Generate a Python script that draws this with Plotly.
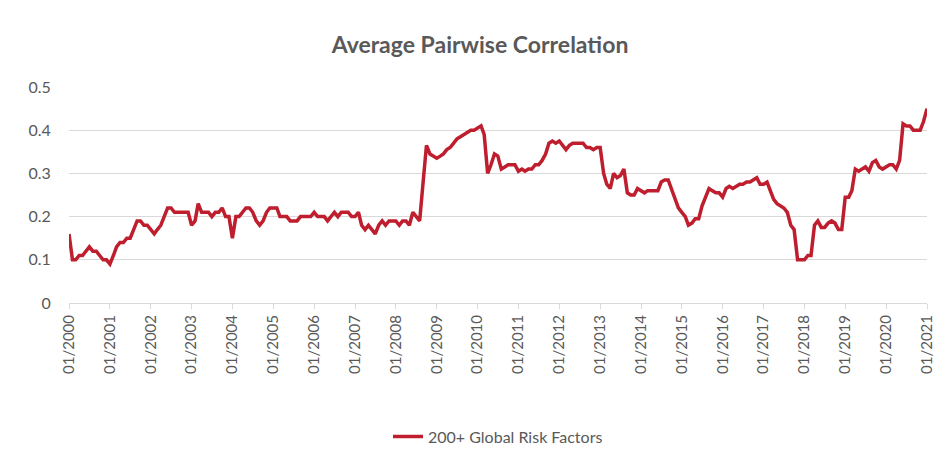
import plotly.graph_objects as go
import pandas as pd

series_name = "200+ Global Risk Factors"
values = [
0.16,0.10,0.10,0.11,0.11,0.12,0.13,0.12,0.12,0.11,0.10,0.10,
0.09,0.11,0.13,0.14,0.14,0.15,0.15,0.17,0.19,0.19,0.18,0.18,
0.17,0.16,0.17,0.18,0.20,0.22,0.22,0.21,0.21,0.21,0.21,0.21,
0.18,0.19,0.23,0.21,0.21,0.21,0.20,0.21,0.21,0.22,0.20,0.20,
0.15,0.20,0.20,0.21,0.22,0.22,0.21,0.19,0.18,0.19,0.21,0.22,
0.22,0.22,0.20,0.20,0.20,0.19,0.19,0.19,0.20,0.20,0.20,0.20,
0.21,0.20,0.20,0.20,0.19,0.20,0.21,0.20,0.21,0.21,0.21,0.20,
0.20,0.21,0.18,0.17,0.18,0.17,0.16,0.18,0.19,0.18,0.19,0.19,
0.19,0.18,0.19,0.19,0.18,0.21,0.20,0.19,0.28,0.365,0.345,0.34,
0.335,0.34,0.345,0.355,0.36,0.37,0.38,0.385,0.39,0.395,0.40,0.40,
0.405,0.41,0.39,0.30,0.32,0.345,0.34,0.31,0.315,0.32,0.32,0.32,
0.305,0.31,0.305,0.31,0.31,0.32,0.32,0.33,0.345,0.37,0.375,0.37,
0.375,0.365,0.355,0.365,0.37,0.37,0.37,0.37,0.36,0.36,0.355,0.36,
0.36,0.30,0.275,0.265,0.30,0.29,0.295,0.31,0.255,0.25,0.25,0.265,
0.26,0.255,0.26,0.26,0.26,0.26,0.28,0.285,0.285,0.265,0.24,0.22,
0.21,0.20,0.18,0.185,0.195,0.195,0.225,0.245,0.265,0.26,0.255,0.255,
0.245,0.265,0.27,0.265,0.27,0.275,0.275,0.28,0.28,0.285,0.29,0.275,
0.275,0.28,0.26,0.24,0.23,0.225,0.22,0.21,0.18,0.17,0.10,0.10,
0.10,0.11,0.11,0.18,0.19,0.175,0.175,0.185,0.19,0.185,0.17,0.17,
0.245,0.245,0.26,0.31,0.305,0.31,0.315,0.305,0.325,0.33,0.315,0.31,
0.315,0.32,0.32,0.31,0.33,0.415,0.41,0.41,0.40,0.40,0.40,0.42,
0.45]
dates = pd.date_range("2000-01-01", periods=len(values), freq="MS")
tick_vals = pd.date_range("2000-01-01", "2021-01-01", freq="12MS")
tick_text = [d.strftime("%m/%Y") for d in tick_vals]

fig = go.Figure(go.Scatter(x=dates, y=values, mode="lines", name=series_name,
                           line=dict(color="#BE1E2D", width=3.5)))
fig.update_layout(
    width=944, height=457, plot_bgcolor="white", paper_bgcolor="white",
    font=dict(family="Lato, Open Sans, sans-serif", color="#595959", size=15),
    title=dict(text="<b>Average Pairwise Correlation</b>", x=0.5, xanchor="center",
               y=0.92, yanchor="middle", font=dict(size=23, color="#595959")),
    margin=dict(l=61, r=25, t=79, b=147),
    showlegend=True,
    legend=dict(orientation="h", x=0.5, xanchor="center", y=-0.54, yanchor="top",
                font=dict(size=16, color="#595959")),
)
fig.update_xaxes(tickvals=tick_vals, ticktext=tick_text, tickangle=-90,
                 range=[dates[0], dates[-1]], showgrid=False, showline=True,
                 linecolor="#d9d9d9", ticks="outside", tickcolor="#d9d9d9",
                 tickfont=dict(size=15, color="#595959"))
fig.update_yaxes(range=[0, 0.5], tickvals=[0,0.1,0.2,0.3,0.4,0.5],
                 ticktext=["0","0.1","0.2","0.3","0.4","0.5"],
                 gridcolor="#d9d9d9", zeroline=False, ticklen=14, ticks="outside",
                 tickcolor="white", tickfont=dict(size=16, color="#595959"))
fig.write_html("out.html")
